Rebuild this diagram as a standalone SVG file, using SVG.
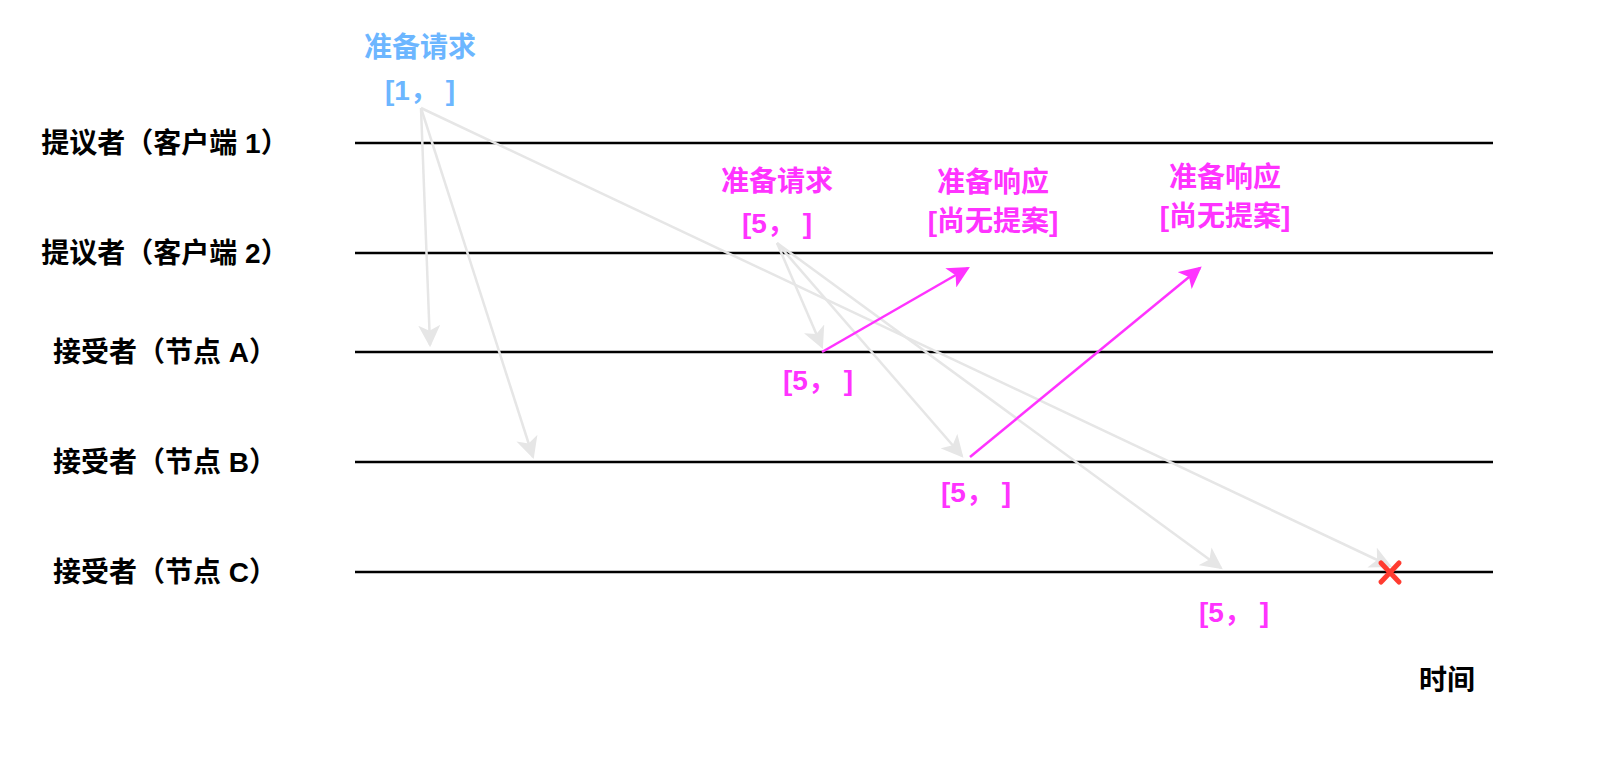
<svg xmlns="http://www.w3.org/2000/svg" width="1600" height="760" viewBox="0 0 1600 760">
<style>
text{font-family:"Liberation Sans","Noto Sans CJK SC",sans-serif;font-weight:bold;font-size:28px;text-anchor:middle}
.lbl{fill:#000}
.b{fill:#6cb6ff}
.p{fill:#ff33ff}
.lane{stroke:#000;stroke-width:2.5}
.g{stroke:#e6e6e6;stroke-width:2.5;fill:none;marker-end:url(#ag)}
.pk{stroke:#ff33ff;stroke-width:2.5;fill:none;marker-end:url(#ap)}
</style>
<defs>
<marker id="ag" viewBox="0 0 20 20" refX="18" refY="10" markerWidth="22" markerHeight="22" markerUnits="userSpaceOnUse" orient="auto"><path d="M0,0 L20,10 L0,20 L5,10 Z" fill="#e6e6e6"/></marker>
<marker id="ap" viewBox="0 0 20 20" refX="18" refY="10" markerWidth="22" markerHeight="22" markerUnits="userSpaceOnUse" orient="auto"><path d="M0,0 L20,10 L0,20 L5,10 Z" fill="#ff33ff"/></marker>
</defs>
<g id="lanes">
<line class="lane" x1="355" y1="143" x2="1493" y2="143"/>
<line class="lane" x1="355" y1="253" x2="1493" y2="253"/>
<line class="lane" x1="355" y1="352" x2="1493" y2="352"/>
<line class="lane" x1="355" y1="462" x2="1493" y2="462"/>
<line class="lane" x1="355" y1="572" x2="1493" y2="572"/>
</g>
<g id="n1"><text class="lbl" x="165" y="153">提议者（客户端 1）</text></g>
<g id="n2"><text class="lbl" x="165" y="263">提议者（客户端 2）</text></g>
<g id="n3"><text class="lbl" x="165" y="362">接受者（节点 A）</text></g>
<g id="n4"><text class="lbl" x="165" y="472">接受者（节点 B）</text></g>
<g id="n5"><text class="lbl" x="165" y="582">接受者（节点 C）</text></g>
<g id="req1"><text class="b" x="420" y="57">准备请求</text><text class="b" x="420" y="100">[1，&#160;]</text></g>
<g id="req5"><text class="p" x="777" y="191">准备请求</text><text class="p" x="777" y="233">[5，&#160;]</text></g>
<g id="resp1"><text class="p" x="993" y="192">准备响应</text><text class="p" x="993" y="231">[尚无提案]</text></g>
<g id="resp2"><text class="p" x="1225" y="187">准备响应</text><text class="p" x="1225" y="226">[尚无提案]</text></g>
<g id="ra"><text class="p" x="818" y="390">[5，&#160;]</text></g>
<g id="rb"><text class="p" x="976" y="502">[5，&#160;]</text></g>
<g id="rc"><text class="p" x="1234" y="622">[5，&#160;]</text></g>
<g id="time"><text class="lbl" x="1447" y="690">时间</text></g>
<g id="connectors">
<line class="g" x1="421" y1="108" x2="430" y2="345"/>
<line class="g" x1="421" y1="108" x2="533" y2="457"/>
<line class="g" x1="421" y1="108" x2="1390" y2="566"/>
<line class="g" x1="777" y1="243" x2="822" y2="347"/>
<line class="g" x1="777" y1="243" x2="962" y2="456"/>
<line class="g" x1="777" y1="243" x2="1221" y2="568"/>
<line class="pk" x1="822" y1="352" x2="968" y2="268"/>
<line class="pk" x1="970" y1="457" x2="1200" y2="268"/>
</g>
<g id="cross" stroke="#ff3b30" stroke-width="5" stroke-linecap="round">
<line x1="1381" y1="563" x2="1399" y2="582"/><line x1="1399" y1="563" x2="1381" y2="582"/>
</g>
</svg>
